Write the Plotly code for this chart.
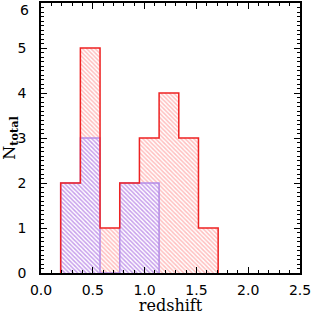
import plotly.graph_objects as go

bin_edges = [0.19, 0.38, 0.57, 0.76, 0.95, 1.14, 1.33, 1.52, 1.71]
total_counts = [2, 5, 1, 2, 3, 4, 3, 1]
sub_counts = [2, 3, 0, 2, 2]
y_ticks = [0, 1, 2, 3, 4, 5, 6]

red_line = "#ee2222"
red_hatch = "#ff8080"
pur_line = "#b48ce6"
pur_hatch = "#9040d8"

def centers(edges, n):
    return [(edges[i] + edges[i + 1]) / 2 for i in range(n)]

def widths(edges, n):
    return [edges[i + 1] - edges[i] for i in range(n)]

def step(edges, counts):
    n = len(counts)
    xs = [edges[0]] + list(edges[: n + 1])
    ys = [0] + list(counts) + [0]
    return xs, ys

fig = go.Figure()
fig.add_trace(go.Bar(
    x=centers(bin_edges, len(total_counts)), y=total_counts,
    width=widths(bin_edges, len(total_counts)),
    marker=dict(color="white", line=dict(width=0),
                pattern=dict(shape="\\", fgcolor=red_hatch, bgcolor="white", size=3, solidity=0.5)),
))
fig.add_trace(go.Bar(
    x=centers(bin_edges, len(sub_counts)), y=sub_counts,
    width=widths(bin_edges, len(sub_counts)),
    marker=dict(color="white", line=dict(width=0),
                pattern=dict(shape="\\", fgcolor=pur_hatch, bgcolor="white", size=3, solidity=0.5)),
))
sx, sy = step(bin_edges, sub_counts)
fig.add_trace(go.Scatter(x=sx, y=sy, mode="lines", line=dict(shape="hv", color=pur_line, width=1.5)))
tx, ty = step(bin_edges, total_counts)
fig.add_trace(go.Scatter(x=tx, y=ty, mode="lines", line=dict(shape="hv", color=red_line, width=1.5)))

tickfont = dict(family="DejaVu Sans", size=14, color="black")
axis_common = dict(
    ticks="inside", ticklen=6, tickwidth=1, tickcolor="black",
    showline=True, linecolor="black", linewidth=1.5, mirror="ticks",
    showgrid=False, zeroline=False, tickfont=tickfont, automargin=False,
)
# top y tick label is drawn just inside the figure (as in the reference)
ytext = [str(v) for v in y_ticks[:-1]] + [""]
fig.add_annotation(x=0, xref="paper", xanchor="right", xshift=-10,
                   y=y_ticks[-1], yref="y", yanchor="top", yshift=3,
                   text=str(y_ticks[-1]), showarrow=False, font=tickfont)
fig.update_layout(
    width=315, height=315,
    margin=dict(l=41, r=15, t=3, b=42),
    barmode="overlay", bargap=0,
    showlegend=False,
    plot_bgcolor="white", paper_bgcolor="white",
    xaxis=dict(range=[0, 2.5], tickmode="linear", tick0=0, dtick=0.5, tickformat=".1f",
               ticklabelstandoff=3,
               minor=dict(dtick=0.1, ticks="inside", ticklen=3, tickcolor="black"),
               title=dict(text="redshift", font=dict(family="DejaVu Serif", size=16, color="black"), standoff=6),
               **axis_common),
    yaxis=dict(range=[0, 6], tickmode="array", tickvals=y_ticks, ticktext=ytext,
               ticklabelstandoff=10,
               minor=dict(dtick=0.1, ticks="inside", ticklen=3, tickcolor="black"),
               title=dict(text="N<sub><b>total</b></sub>", font=dict(family="DejaVu Serif", size=16, color="black"), standoff=4),
               **axis_common),
)
fig.write_html("out.html", config={"displayModeBar": False},
               post_script="document.body.style.margin='0px';")
